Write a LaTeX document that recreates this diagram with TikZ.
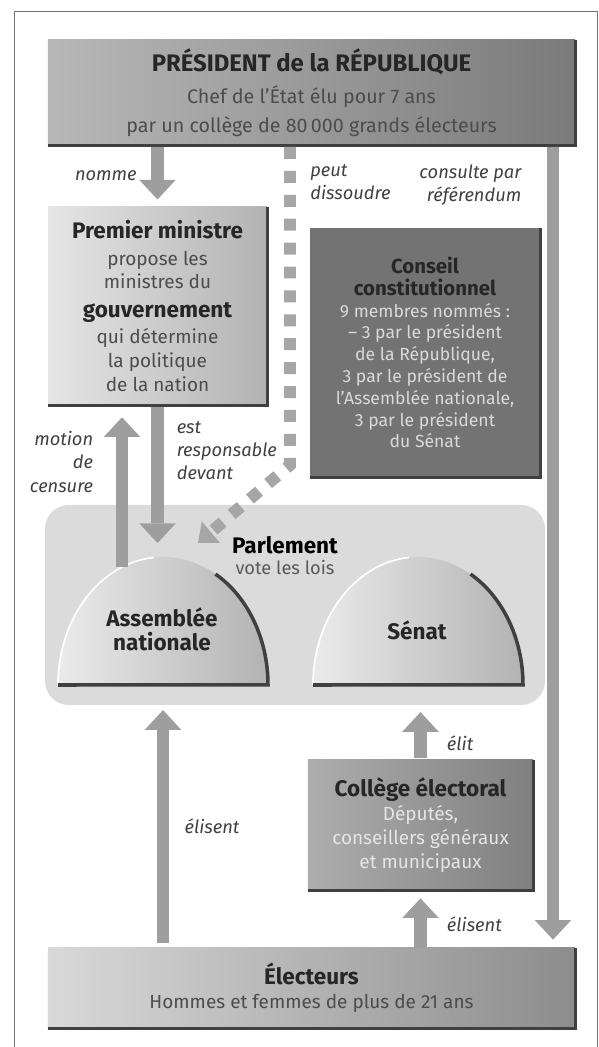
\documentclass[tikz,border=0pt]{standalone}
\usepackage{fontspec}
\setmainfont{Fira Sans}
\usetikzlibrary{positioning,arrows.meta,calc}
\newcommand{\titre}[1]{{\fontsize{16}{19}\selectfont\bfseries #1}}

\begin{document}
\begin{tikzpicture}[
  x=0.025cm, y=0.025cm,
  font=\fontsize{13.5}{17}\selectfont,
  box/.style={inner sep=0pt, align=center, text=black!70},
  lbl/.style={inner sep=0pt, font=\fontsize{13}{16.5}\selectfont\itshape, text=black!75},
  bar/.style={draw=black!38, line width=9.2pt, -{Triangle[width=26pt, length=14pt, line width=0pt]}},
  dots/.style={draw=black!35, line width=8.5pt, dash pattern=on 8.5pt off 8.5pt, -{Triangle[width=20pt, length=12pt, line width=0pt]}},
  edge/.style={draw=black!75, line width=2.5pt},
]
\useasboundingbox (0,0) rectangle (599,1047);
\draw[black!55, line width=0.7pt] (14,-5) -- (14,1035) -- (597,1035) -- (597,-5);

% Parlement
\node[fill=black!14, rounded corners=0.6cm, minimum width=12.5cm, minimum height=5cm] (parl) at (295,442) {};
\node[inner sep=0pt] (parlt) at (285,502) {\titre{Parlement}};
\node[below=1.5mm of parlt, inner sep=0pt, text=black!65, font=\fontsize{13}{15}\selectfont] (vote) {vote les lois};

% domes
\shade[left color=black!8, right color=black!30] (58,362) arc[start angle=180, end angle=0, x radius=105, y radius=128] -- cycle;
\draw[white, line width=1.2pt] (58,362) arc[start angle=180, end angle=95, x radius=105, y radius=128];
\draw[edge] (215.5,472.9) arc[start angle=60, end angle=0, x radius=105, y radius=128] -- (58,362);
\shade[left color=black!8, right color=black!30] (313,362) arc[start angle=180, end angle=0, x radius=105, y radius=128] -- cycle;
\draw[white, line width=1.2pt] (313,362) arc[start angle=180, end angle=95, x radius=105, y radius=128];
\draw[edge] (470.5,472.9) arc[start angle=60, end angle=0, x radius=105, y radius=128] -- (313,362);
\node[box, text=black!85] (an) at (162,418) {\titre{Assemblée}\\\titre{nationale}};
\node[box, text=black!85] (sen) at (417,417) {\titre{Sénat}};
\coordinate (antop) at (163,490);

% boxes
\node[box, minimum width=13.175cm, minimum height=2.625cm, left color=black!28, right color=black!52, font=\fontsize{14}{20}\selectfont] (pres) at (311.5,954.5)
  {\textcolor{black!85}{\fontsize{17}{20}\selectfont\bfseries PRÉSIDENT de la RÉPUBLIQUE}\\[3pt]
   Chef de l'État élu pour 7 ans\\ par un collège de 80\,000 grands électeurs};
\node[box, minimum width=5.475cm, minimum height=4.95cm, left color=black!10, right color=black!30] (pm) at (157.5,741)
  {\textcolor{black!85}{\titre{Premier ministre}}\\[2pt] propose les\\ ministres du\\[3pt]
   \textcolor{black!85}{\titre{gouvernement}}\\[2pt] qui détermine\\ la politique\\ de la nation};
\node[box, minimum width=5.75cm, minimum height=6.225cm, fill=black!55, text=black!15, font=\fontsize{12.5}{15.5}\selectfont] (cc) at (425,694.5)
  {\textcolor{black!85}{\fontsize{14.5}{20}\selectfont\bfseries Conseil}\\ \textcolor{black!85}{\fontsize{14.5}{20}\selectfont\bfseries constitutionnel}\\
   9 membres nommés :\\ -- 3 par le président\\ de la République,\\ 3 par le président de\\
   l'Assemblée nationale,\\ 3 par le président\\ du Sénat};
\node[box, minimum width=5.625cm, minimum height=3.25cm, left color=black!32, right color=black!50, text=black!10] (col) at (420.5,222)
  {\textcolor{black!85}{\titre{Collège électoral}}\\ Députés,\\ conseillers généraux\\ et municipaux};
\node[box, minimum width=13.175cm, minimum height=2cm, left color=black!15, right color=black!45] (elec) at (311.5,59)
  {\textcolor{black!85}{\titre{Électeurs}}\\ Hommes et femmes de plus de 21 ans};
\foreach \b in {pres,pm,cc,col,elec}
  \draw[edge] (\b.south west) -- (\b.south east) -- (\b.north east);

% arrows
\draw[bar, shorten <=1.5pt, shorten >=0.18cm] (pres.south -| pm.north) -- node[lbl, left=3.6mm] {nomme} (pm.north);
\coordinate (dis) at (290,900);
\coordinate (kink) at (290,582);
\draw[dots] (dis) -- node[lbl, pos=0.11, right=3.6mm, align=left] {peut\\dissoudre} (kink) -- ($(antop)+(35,14)$);
\coordinate (ref) at (553,902);
\draw[bar, shorten <=1.5pt, shorten >=0.2cm] (ref) -- node[lbl, pos=0.05, left=6.3mm, align=right] {consulte par\\référendum} (ref |- elec.north);
\coordinate (mc) at (122,480);
\draw[bar, shorten >=0.3cm] (mc) -- node[lbl, pos=0.65, left=5.6mm, align=right] {motion\\de\\censure} (mc |- pm.south);
\draw[bar, shorten <=1.5pt, shorten >=0.35cm] (pm.south) -- node[lbl, pos=0.3, right=3.2mm, align=left] {est\\responsable\\devant} (pm.south |- antop);
\draw[bar, shorten <=0.12cm, shorten >=0.12cm] (elec.north -| antop) -- node[lbl, right=3.8mm] {élisent} (parl.south -| antop);
\draw[bar, shorten <=1.5pt, shorten >=0.17cm] (col.north) -- node[lbl, pos=0.3, right=5mm] {élit} (col.north |- parl.south);
\draw[bar, shorten >=0.2cm] (elec.north -| col.south) -- node[lbl, pos=0.4, right=5mm] {élisent} (col.south);
\end{tikzpicture}
\end{document}
